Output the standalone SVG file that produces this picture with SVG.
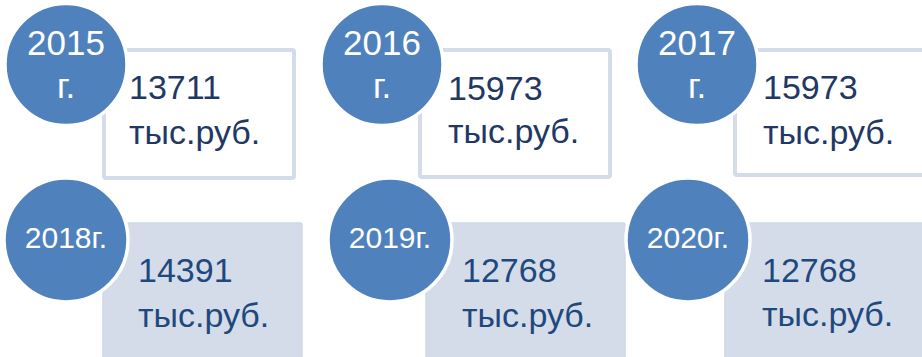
<svg xmlns="http://www.w3.org/2000/svg" width="922" height="357" viewBox="0 0 922 357">
<style>
.bg{fill:#ffffff}
.box1{fill:#ffffff;stroke:#d5dce9;stroke-width:4}
.box2{fill:#d4dcea;stroke:#cfd7e6;stroke-width:1.5}
.circ{fill:#4f81bd;stroke:#ffffff;stroke-width:3.5}
.yr{font-family:"Liberation Sans",Arial,sans-serif;fill:#ffffff;text-anchor:middle}
.yt{font-size:35px}
.yb{font-size:30px}
.val{font-family:"Liberation Sans",Arial,sans-serif;font-size:34px}
.v1{fill:#1f3864}
.v2{fill:#1f497d}
</style>
<rect class="bg" x="0" y="0" width="922" height="357"/>
<g id="node-2015">
<rect class="box1" x="104" y="50" width="190" height="128" rx="2"/>
<circle class="circ" cx="66" cy="64.5" r="61"/>
<text class="yr yt" x="66" y="55">2015</text>
<text class="yr yt" x="66" y="98">г.</text>
<text class="val v1" x="129" y="99">13711</text>
<text class="val v1" x="129" y="144">тыс.руб.</text>
</g>
<g id="node-2016">
<rect class="box1" x="420" y="50" width="190" height="127" rx="2"/>
<circle class="circ" cx="382" cy="64.5" r="61"/>
<text class="yr yt" x="382" y="55">2016</text>
<text class="yr yt" x="382" y="98">г.</text>
<text class="val v1" x="448" y="100">15973</text>
<text class="val v1" x="448" y="143">тыс.руб.</text>
</g>
<g id="node-2017">
<rect class="box1" x="735" y="50" width="200" height="125" rx="2"/>
<circle class="circ" cx="697" cy="64.5" r="61"/>
<text class="yr yt" x="697" y="55">2017</text>
<text class="yr yt" x="697" y="98">г.</text>
<text class="val v1" x="763" y="99">15973</text>
<text class="val v1" x="763" y="144">тыс.руб.</text>
</g>
<g id="node-2018">
<rect class="box2" x="103" y="223" width="199" height="140" rx="2"/>
<circle class="circ" cx="66" cy="240" r="62"/>
<text class="yr yb" x="66" y="248">2018г.</text>
<text class="val v2" x="138" y="282">14391</text>
<text class="val v2" x="138" y="327">тыс.руб.</text>
</g>
<g id="node-2019">
<rect class="box2" x="426" y="223" width="199" height="140" rx="2"/>
<circle class="circ" cx="390" cy="240" r="62"/>
<text class="yr yb" x="390" y="248">2019г.</text>
<text class="val v2" x="462" y="282">12768</text>
<text class="val v2" x="462" y="327">тыс.руб.</text>
</g>
<g id="node-2020">
<rect class="box2" x="725" y="223" width="210" height="140" rx="2"/>
<circle class="circ" cx="688" cy="240" r="62"/>
<text class="yr yb" x="688" y="248">2020г.</text>
<text class="val v2" x="762" y="282">12768</text>
<text class="val v2" x="762" y="326">тыс.руб.</text>
</g>
<g id="connectors"></g>
</svg>
